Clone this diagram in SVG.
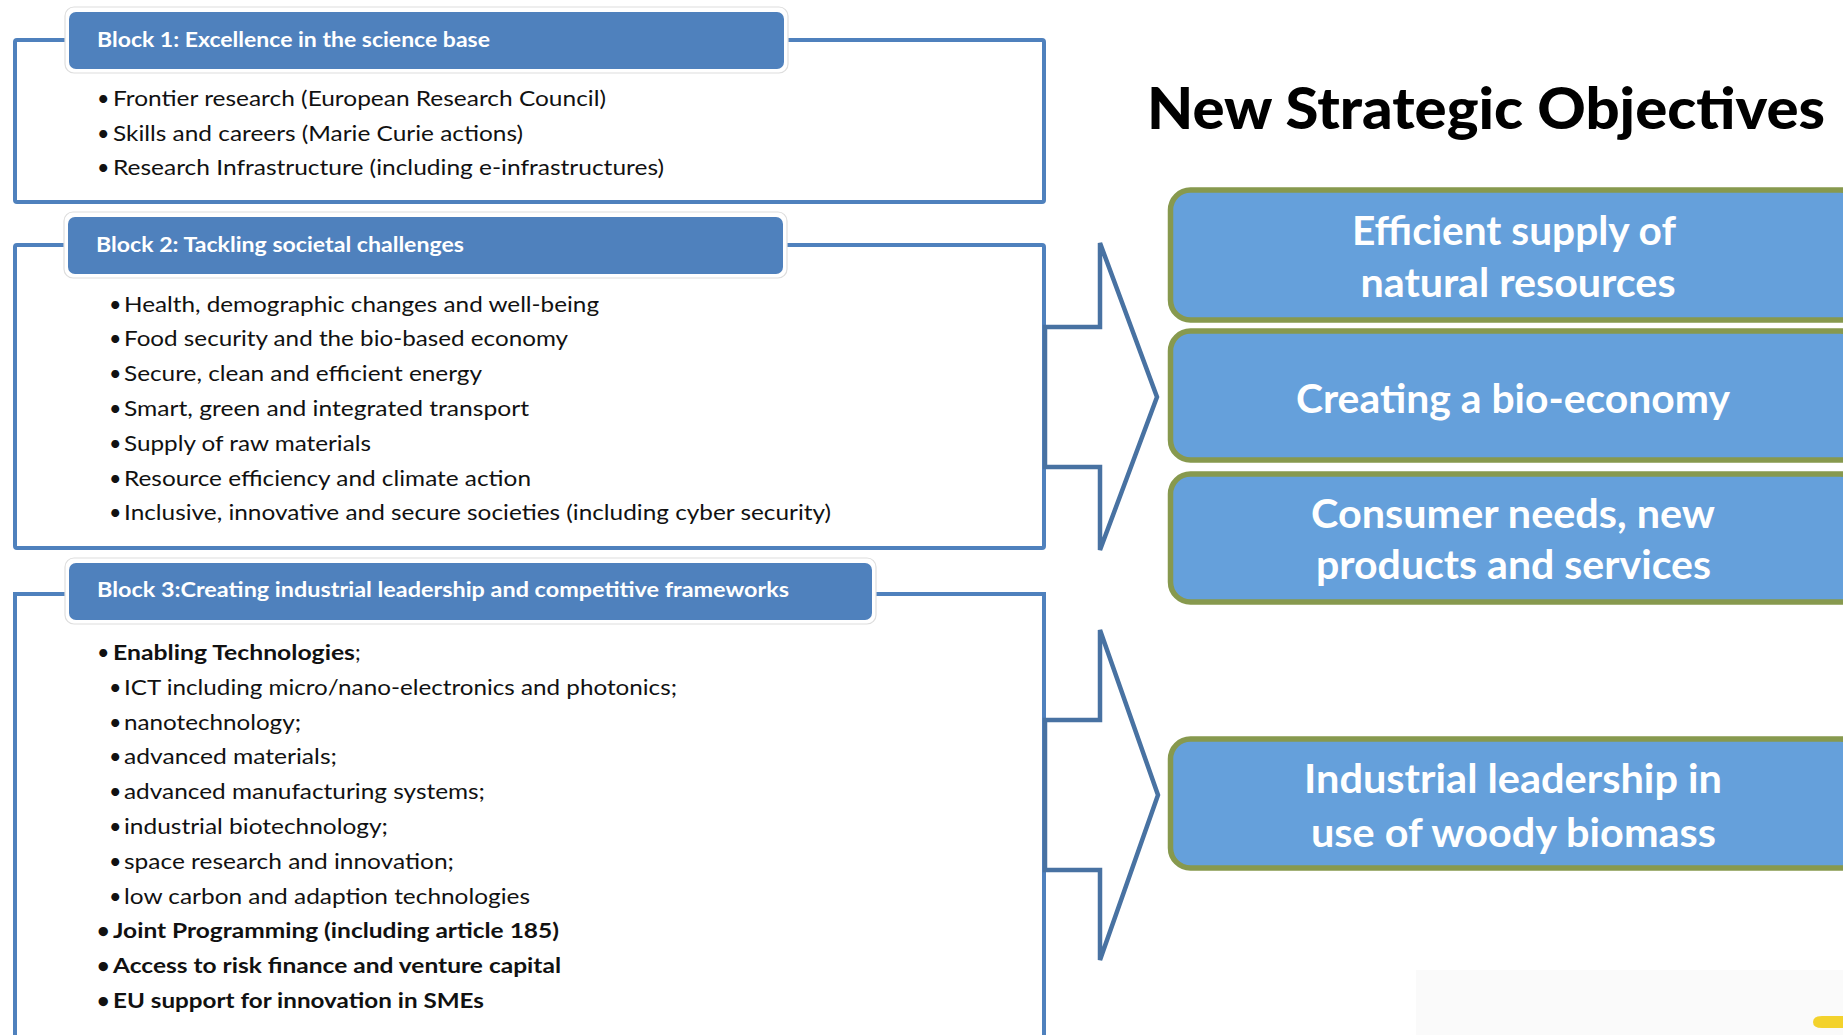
<svg xmlns="http://www.w3.org/2000/svg" width="1843" height="1035" viewBox="0 0 1843 1035">
<style>
  .frame{fill:#ffffff;stroke:#4F81BD;stroke-width:4}
  .back{fill:#ffffff;stroke:#dedede;stroke-width:1.2}
  .hdr{fill:#4F81BD}
  .htxt{font-family:Lato,'Liberation Sans',sans-serif;font-weight:bold;font-size:20.5px;fill:#ffffff}
  .item{font-family:Lato,'Liberation Sans',sans-serif;font-size:21.5px;fill:#111111}
  .bold{font-weight:bold}
  .obj{fill:#65A0DB;stroke:#87994E;stroke-width:5.5}
  .otxt{font-family:Lato,'Liberation Sans',sans-serif;font-weight:bold;font-size:39.5px;fill:#ffffff;text-anchor:middle}
  .title{font-family:Lato,'Liberation Sans',sans-serif;font-weight:900;font-size:57px;fill:#000000}
  .arrow{fill:#ffffff;stroke:#4872A2;stroke-width:4.5;stroke-linejoin:miter}
</style>
<rect x="0" y="0" width="1843" height="1035" fill="#ffffff"/>

<g id="block1">
  <rect class="frame" x="15" y="40" width="1029" height="162" rx="2"/>
  <rect class="back" x="65" y="7" width="723" height="66" rx="9"/>
  <rect class="hdr" x="69" y="12" width="715" height="57" rx="7"/>
  <text class="htxt" x="97" y="47" textLength="393" lengthAdjust="spacingAndGlyphs">Block 1: Excellence in the science base</text>
  <text class="item" y="106"><tspan x="97">•</tspan><tspan x="113" textLength="493" lengthAdjust="spacingAndGlyphs">Frontier research (European Research Council)</tspan></text>
  <text class="item" y="140.5"><tspan x="97">•</tspan><tspan x="113" textLength="410" lengthAdjust="spacingAndGlyphs">Skills and careers (Marie Curie actions)</tspan></text>
  <text class="item" y="175"><tspan x="97">•</tspan><tspan x="113" textLength="551" lengthAdjust="spacingAndGlyphs">Research Infrastructure (including e-infrastructures)</tspan></text>
</g>

<g id="block2">
  <rect class="frame" x="15" y="245" width="1029" height="303" rx="2"/>
  <rect class="back" x="64" y="212" width="723" height="66" rx="9"/>
  <rect class="hdr" x="68" y="217" width="715" height="57" rx="7"/>
  <text class="htxt" x="96" y="252" textLength="368" lengthAdjust="spacingAndGlyphs">Block 2: Tackling societal challenges</text>
  <text class="item" y="311.5"><tspan x="109">•</tspan><tspan x="124" textLength="475" lengthAdjust="spacingAndGlyphs">Health, demographic changes and well-being</tspan></text>
  <text class="item" y="346.3"><tspan x="109">•</tspan><tspan x="124" textLength="444" lengthAdjust="spacingAndGlyphs">Food security and the bio-based economy</tspan></text>
  <text class="item" y="381.1"><tspan x="109">•</tspan><tspan x="124" textLength="358" lengthAdjust="spacingAndGlyphs">Secure, clean and efficient energy</tspan></text>
  <text class="item" y="415.9"><tspan x="109">•</tspan><tspan x="124" textLength="405" lengthAdjust="spacingAndGlyphs">Smart, green and integrated transport</tspan></text>
  <text class="item" y="450.7"><tspan x="109">•</tspan><tspan x="124" textLength="247" lengthAdjust="spacingAndGlyphs">Supply of raw materials</tspan></text>
  <text class="item" y="485.5"><tspan x="109">•</tspan><tspan x="124" textLength="407" lengthAdjust="spacingAndGlyphs">Resource efficiency and climate action</tspan></text>
  <text class="item" y="520.3"><tspan x="109">•</tspan><tspan x="124" textLength="707" lengthAdjust="spacingAndGlyphs">Inclusive, innovative and secure societies (including cyber security)</tspan></text>
</g>

<g id="block3">
  <path class="frame" d="M15,1040 V594 H1044 V1040"/>
  <rect class="back" x="65" y="558" width="811" height="66" rx="9"/>
  <rect class="hdr" x="69" y="563" width="803" height="57" rx="7"/>
  <text class="htxt" x="97" y="597" textLength="692" lengthAdjust="spacingAndGlyphs">Block 3:Creating industrial leadership and competitive frameworks</text>
  <text class="item" y="660"><tspan x="97">•</tspan><tspan x="113" class="bold" textLength="242" lengthAdjust="spacingAndGlyphs">Enabling Technologies</tspan><tspan>;</tspan></text>
  <text class="item" y="694.8"><tspan x="109">•</tspan><tspan x="124" textLength="553" lengthAdjust="spacingAndGlyphs">ICT including micro/nano-electronics and photonics;</tspan></text>
  <text class="item" y="729.6"><tspan x="109">•</tspan><tspan x="124" textLength="177" lengthAdjust="spacingAndGlyphs">nanotechnology;</tspan></text>
  <text class="item" y="764.4"><tspan x="109">•</tspan><tspan x="124" textLength="213" lengthAdjust="spacingAndGlyphs">advanced materials;</tspan></text>
  <text class="item" y="799.2"><tspan x="109">•</tspan><tspan x="124" textLength="361" lengthAdjust="spacingAndGlyphs">advanced manufacturing systems;</tspan></text>
  <text class="item" y="834"><tspan x="109">•</tspan><tspan x="124" textLength="264" lengthAdjust="spacingAndGlyphs">industrial biotechnology;</tspan></text>
  <text class="item" y="868.8"><tspan x="109">•</tspan><tspan x="124" textLength="330" lengthAdjust="spacingAndGlyphs">space research and innovation;</tspan></text>
  <text class="item" y="903.6"><tspan x="109">•</tspan><tspan x="124" textLength="406" lengthAdjust="spacingAndGlyphs">low carbon and adaption technologies</tspan></text>
  <text class="item bold" y="938.4"><tspan x="97">•</tspan><tspan x="113" textLength="446" lengthAdjust="spacingAndGlyphs">Joint Programming (including article 185)</tspan></text>
  <text class="item bold" y="973.2"><tspan x="97">•</tspan><tspan x="113" textLength="448" lengthAdjust="spacingAndGlyphs">Access to risk finance and venture capital</tspan></text>
  <text class="item bold" y="1008"><tspan x="97">•</tspan><tspan x="113" textLength="371" lengthAdjust="spacingAndGlyphs">EU support for innovation in SMEs</tspan></text>
</g>

<g id="connectors">
  <path class="arrow" d="M1045,327 H1100 V243 L1157,397 L1100,550 V467 H1045 Z"/>
  <path class="arrow" d="M1045,720 H1100 V630 L1158,795 L1100,960 V870 H1045 Z"/>
</g>

<g id="title">
  <text class="title" x="1147" y="129" textLength="678" lengthAdjust="spacingAndGlyphs">New Strategic Objectives</text>
</g>

<g id="obj1">
  <rect class="obj" x="1170.5" y="190" width="690" height="130" rx="20"/>
  <text class="otxt" x="1514" y="245" textLength="324" lengthAdjust="spacingAndGlyphs">Efficient supply of</text>
  <text class="otxt" x="1518" y="297" textLength="315" lengthAdjust="spacingAndGlyphs">natural resources</text>
</g>
<g id="obj2">
  <rect class="obj" x="1170.5" y="331" width="690" height="129" rx="20"/>
  <text class="otxt" x="1513" y="413" textLength="434" lengthAdjust="spacingAndGlyphs">Creating a bio-economy</text>
</g>
<g id="obj3">
  <rect class="obj" x="1170.5" y="474" width="690" height="128" rx="20"/>
  <text class="otxt" x="1513" y="528" textLength="404" lengthAdjust="spacingAndGlyphs">Consumer needs, new</text>
  <text class="otxt" x="1513.5" y="579" textLength="395" lengthAdjust="spacingAndGlyphs">products and services</text>
</g>
<g id="obj4">
  <rect class="obj" x="1170.5" y="739" width="690" height="129" rx="20"/>
  <text class="otxt" x="1513" y="793" textLength="418" lengthAdjust="spacingAndGlyphs">Industrial leadership in</text>
  <text class="otxt" x="1513.5" y="847" textLength="405" lengthAdjust="spacingAndGlyphs">use of woody biomass</text>
</g>

<rect x="1416" y="970" width="427" height="65" fill="#fafafa"/>
<path d="M1843,1016 H1822 Q1813,1016 1813,1022 Q1813,1028 1822,1028 H1843 Z" fill="#F3D22C"/>
</svg>
